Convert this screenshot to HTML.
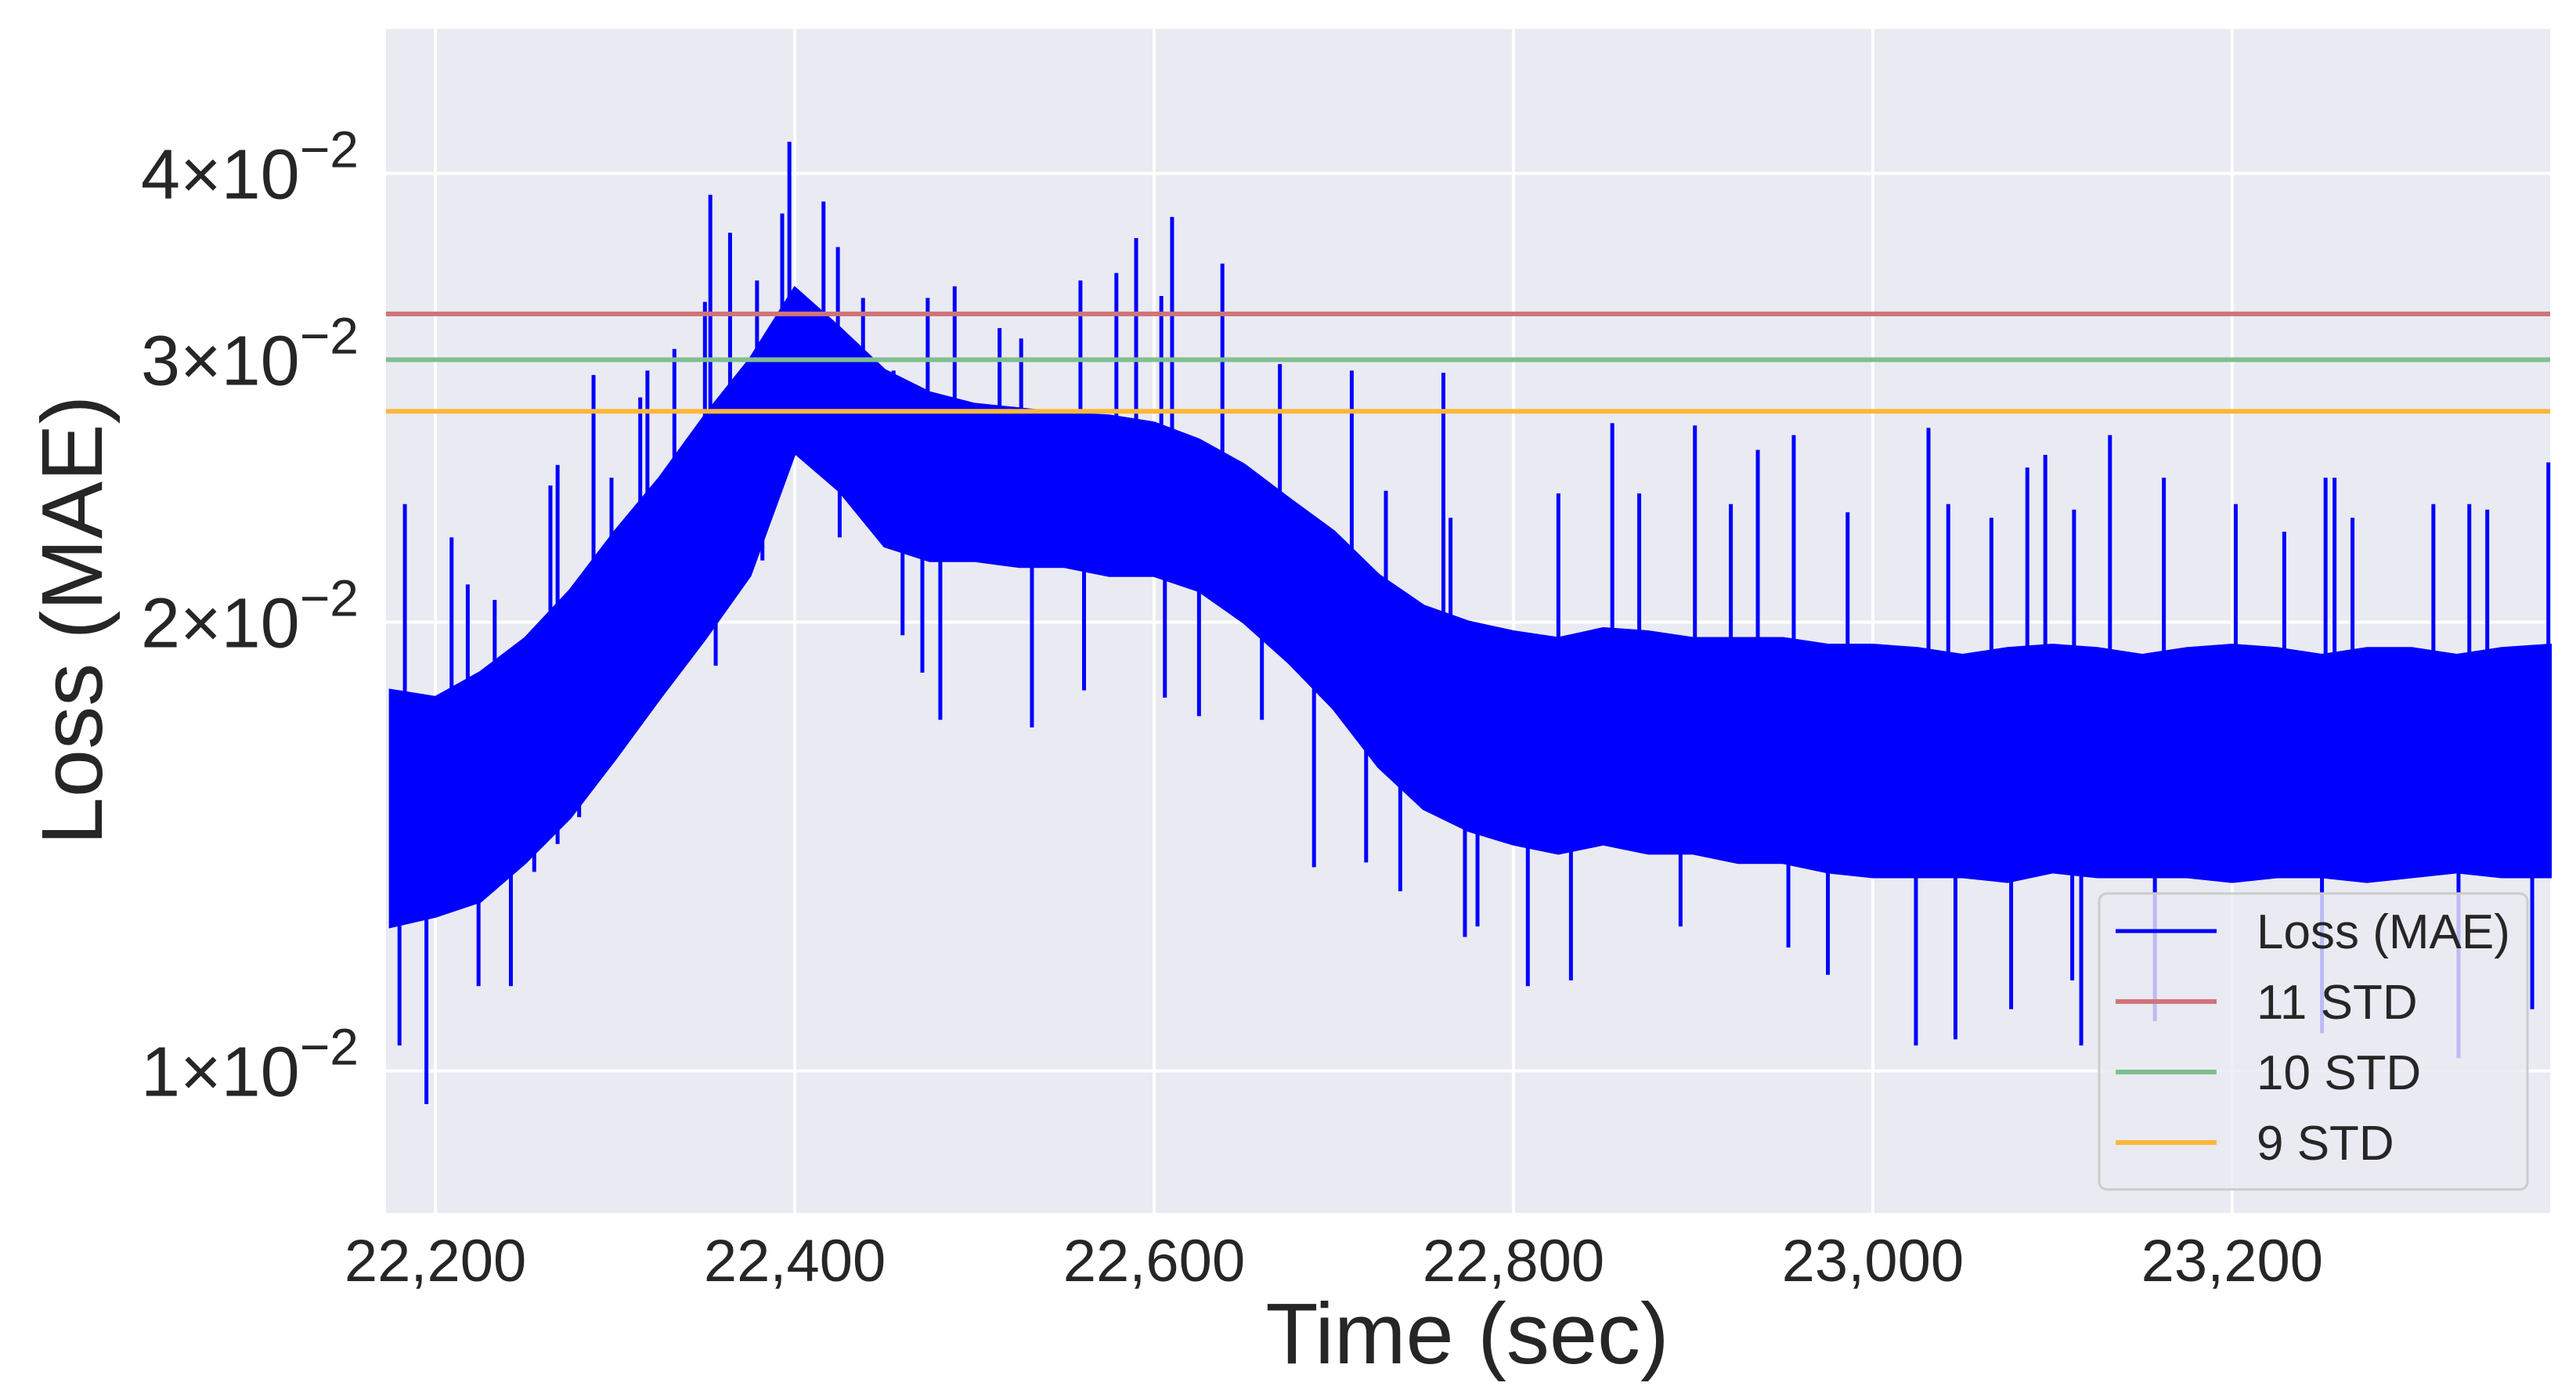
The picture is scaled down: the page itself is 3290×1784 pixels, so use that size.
<!DOCTYPE html>
<html><head><meta charset="utf-8"><style>
html,body{margin:0;padding:0;background:#fff;}
svg{display:block;font-family:"Liberation Sans","DejaVu Sans",sans-serif;}
</style></head><body>
<svg id="chart" width="3290" height="1784" viewBox="0 0 3290 1784" xmlns="http://www.w3.org/2000/svg">
<rect x="0" y="0" width="3290" height="1784" fill="#fff"/>
<rect x="493" y="37" width="2764" height="1512" fill="#eaeaf2"/>
<g id="grid"></g>
<g id="series"></g>
<g id="thresholds"></g>
<g id="xticks"></g>
<g id="yticks"></g>
<text x="1874" y="1741" font-size="110" fill="#262626" text-anchor="middle">Time (sec)</text>
<text transform="translate(130,792) rotate(-90)" font-size="110" fill="#262626" text-anchor="middle">Loss (MAE)</text>
<g id="legend">
  <rect x="2681" y="1141" width="547" height="378" rx="10" fill="#eaeaf2" fill-opacity="0.8" stroke="#cccccc" stroke-width="3"/>
  <g><line x1="2702" y1="1189" x2="2831" y2="1189" stroke="#0000ff" stroke-width="5"/><text x="2882" y="1211" font-size="62" fill="#262626">Loss (MAE)</text></g>
  <g><line x1="2702" y1="1279" x2="2831" y2="1279" stroke="#cf7479" stroke-width="6"/><text x="2882" y="1301" font-size="62" fill="#262626">11 STD</text></g>
  <g><line x1="2702" y1="1369" x2="2831" y2="1369" stroke="#7fbf8f" stroke-width="6"/><text x="2882" y="1391" font-size="62" fill="#262626">10 STD</text></g>
  <g><line x1="2702" y1="1459" x2="2831" y2="1459" stroke="#fbb738" stroke-width="6"/><text x="2882" y="1481" font-size="62" fill="#262626">9 STD</text></g>
</g>
</svg>
<script>
// ---- data (values in units of 1e-2) ----
const bandTimes = [22175,22200,22225,22250,22275,22300,22325,22350,22375,22400,22425,22450,22475,22500,22525,22550,22575,22600,22625,22650,22675,22700,22725,22750,22775,22800,22825,22850,22875,22900,22925,22950,22975,23000,23025,23050,23075,23100,23125,23150,23175,23200,23225,23250,23275,23300,23325,23350,23377];
const bandHigh = [1.80,1.78,1.85,1.95,2.10,2.30,2.50,2.75,3.00,3.35,3.15,2.95,2.85,2.80,2.78,2.76,2.75,2.72,2.65,2.55,2.42,2.30,2.15,2.05,2.00,1.97,1.95,1.98,1.97,1.95,1.95,1.95,1.93,1.93,1.92,1.90,1.92,1.93,1.92,1.90,1.92,1.93,1.92,1.90,1.92,1.92,1.90,1.92,1.93];
const bandLow = [1.25,1.27,1.30,1.38,1.48,1.62,1.78,1.95,2.15,2.60,2.45,2.25,2.20,2.20,2.18,2.18,2.15,2.15,2.10,2.00,1.88,1.75,1.60,1.50,1.45,1.42,1.40,1.42,1.40,1.40,1.38,1.38,1.36,1.35,1.35,1.35,1.34,1.36,1.35,1.35,1.35,1.34,1.35,1.35,1.34,1.35,1.36,1.35,1.35];
const peakTimes = [22183,22209,22218,22233,22264,22268,22288,22298,22314,22318,22333,22350,22353,22364,22379,22393,22397,22416,22424,22438,22455,22474,22489,22514,22526,22559,22579,22590,22604,22610,22638,22670,22710,22729,22761,22765,22825,22855,22870,22901,22921,22936,22956,22986,23031,23042,23066,23086,23096,23112,23132,23162,23202,23229,23252,23257,23267,23312,23332,23342,23376];
const peakValues = [2.40,2.28,2.12,2.07,2.47,2.55,2.93,2.50,2.83,2.95,3.05,3.28,3.87,3.65,3.39,3.76,4.20,3.83,3.57,3.30,2.95,3.30,3.36,3.15,3.10,3.39,3.43,3.62,3.31,3.74,3.48,2.98,2.95,2.45,2.94,2.35,2.44,2.72,2.44,2.71,2.40,2.61,2.67,2.37,2.70,2.40,2.35,2.54,2.59,2.38,2.67,2.50,2.40,2.30,2.50,2.50,2.35,2.40,2.40,2.38,2.56];
const troughTimes = [22180,22195,22224,22242,22255,22268,22280,22295,22308,22343,22356,22382,22425,22460,22471,22481,22532,22561,22606,22625,22660,22689,22718,22737,22773,22780,22808,22832,22893,22953,22975,23024,23046,23077,23111,23116,23157,23250,23326,23367];
const troughValues = [1.04,0.95,1.14,1.14,1.36,1.42,1.48,1.72,1.74,1.93,1.87,2.20,2.28,1.96,1.85,1.72,1.70,1.80,1.78,1.73,1.72,1.37,1.38,1.32,1.23,1.25,1.14,1.15,1.25,1.21,1.16,1.04,1.05,1.10,1.15,1.04,1.08,1.06,1.02,1.10];
const thresholdNames = ["11 STD","10 STD","9 STD"];
const thresholdValues = [3.22,3.00,2.77];
const thresholdColors = ["#cf7479","#7fbf8f","#fbb738"];
const xTicks = [22200,22400,22600,22800,23000,23200];
const xTickLabels = ["22,200","22,400","22,600","22,800","23,000","23,200"];
const yTicks = [1,2,3,4];
const yTickMantissa = ["1","2","3","4"];

// ---- axes ----
const X0=493, X1=3257, Y0=37, Y1=1549;
const T0=22172.5, T1=23377;
const LV0=Math.log10(0.803), LV1=Math.log10(5.0);
function sx(t){return X0+(t-T0)/(T1-T0)*(X1-X0);}
function sy(v){return Y1-(Math.log10(v)-LV0)/(LV1-LV0)*(Y1-Y0);}
const NS="http://www.w3.org/2000/svg";
function mk(tag,attrs,parent){const e=document.createElementNS(NS,tag);for(const k in attrs)e.setAttribute(k,attrs[k]);if(parent)parent.appendChild(e);return e;}

const grid=document.getElementById('grid');
xTicks.forEach((t,i)=>{
  const l=mk('line',{x1:sx(t),x2:sx(t),y1:Y0,y2:Y1,stroke:'#fff','stroke-width':4},grid);
  
  
});
yTicks.forEach((v,i)=>{
  const l=mk('line',{x1:X0,x2:X1,y1:sy(v),y2:sy(v),stroke:'#fff','stroke-width':4},grid);
  
  
});

// series
const series=document.getElementById('series');
let d='';
bandTimes.forEach((t,i)=>{d+=(i?'L':'M')+sx(t).toFixed(1)+','+sy(bandHigh[i]).toFixed(1);});
for(let i=bandTimes.length-1;i>=0;i--){d+='L'+sx(bandTimes[i]).toFixed(1)+','+sy(bandLow[i]).toFixed(1);}
d+='Z';
const band=mk('path',{d:d,fill:'#0000ff',stroke:'#0000ff','stroke-width':4},series);


function bandAt(t,arr){
  for(let i=0;i<bandTimes.length-1;i++){
    if(t>=bandTimes[i]&&t<=bandTimes[i+1]){const f=(t-bandTimes[i])/(bandTimes[i+1]-bandTimes[i]);return arr[i]+(arr[i+1]-arr[i])*f;}
  }
  return t<bandTimes[0]?arr[0]:arr[arr.length-1];
}
peakTimes.forEach((t,i)=>{
  const base=(bandAt(t,bandHigh)+bandAt(t,bandLow))/2;
  const l=mk('line',{x1:sx(t),x2:sx(t),y1:sy(base),y2:sy(peakValues[i]),stroke:'#0000ff','stroke-width':5},series);
  
  
});
troughTimes.forEach((t,i)=>{
  const base=(bandAt(t,bandHigh)+bandAt(t,bandLow))/2;
  const l=mk('line',{x1:sx(t),x2:sx(t),y1:sy(base),y2:sy(troughValues[i]),stroke:'#0000ff','stroke-width':5},series);
  
  
});

// thresholds
const th=document.getElementById('thresholds');
thresholdValues.forEach((v,i)=>{
  const l=mk('line',{x1:X0,x2:X1,y1:sy(v),y2:sy(v),stroke:thresholdColors[i],'stroke-width':6},th);
  
  
});

// ticks
const xt=document.getElementById('xticks');
xTicks.forEach((t,i)=>{
  const e=mk('text',{x:sx(t),y:1636,'font-size':76,fill:'#262626','text-anchor':'middle'},xt);
  e.textContent=xTickLabels[i];
  
  
});
const yt=document.getElementById('yticks');
yTicks.forEach((v,i)=>{
  const e=mk('text',{x:458,y:sy(v)+32,'font-size':90,fill:'#262626','text-anchor':'end'},yt);
  
  
  const a=mk('tspan',{},e); a.textContent=yTickMantissa[i]+'×10';
  const b=mk('tspan',{dy:-40,'font-size':66},e); b.textContent='−2';
});
</script>
</body></html>
